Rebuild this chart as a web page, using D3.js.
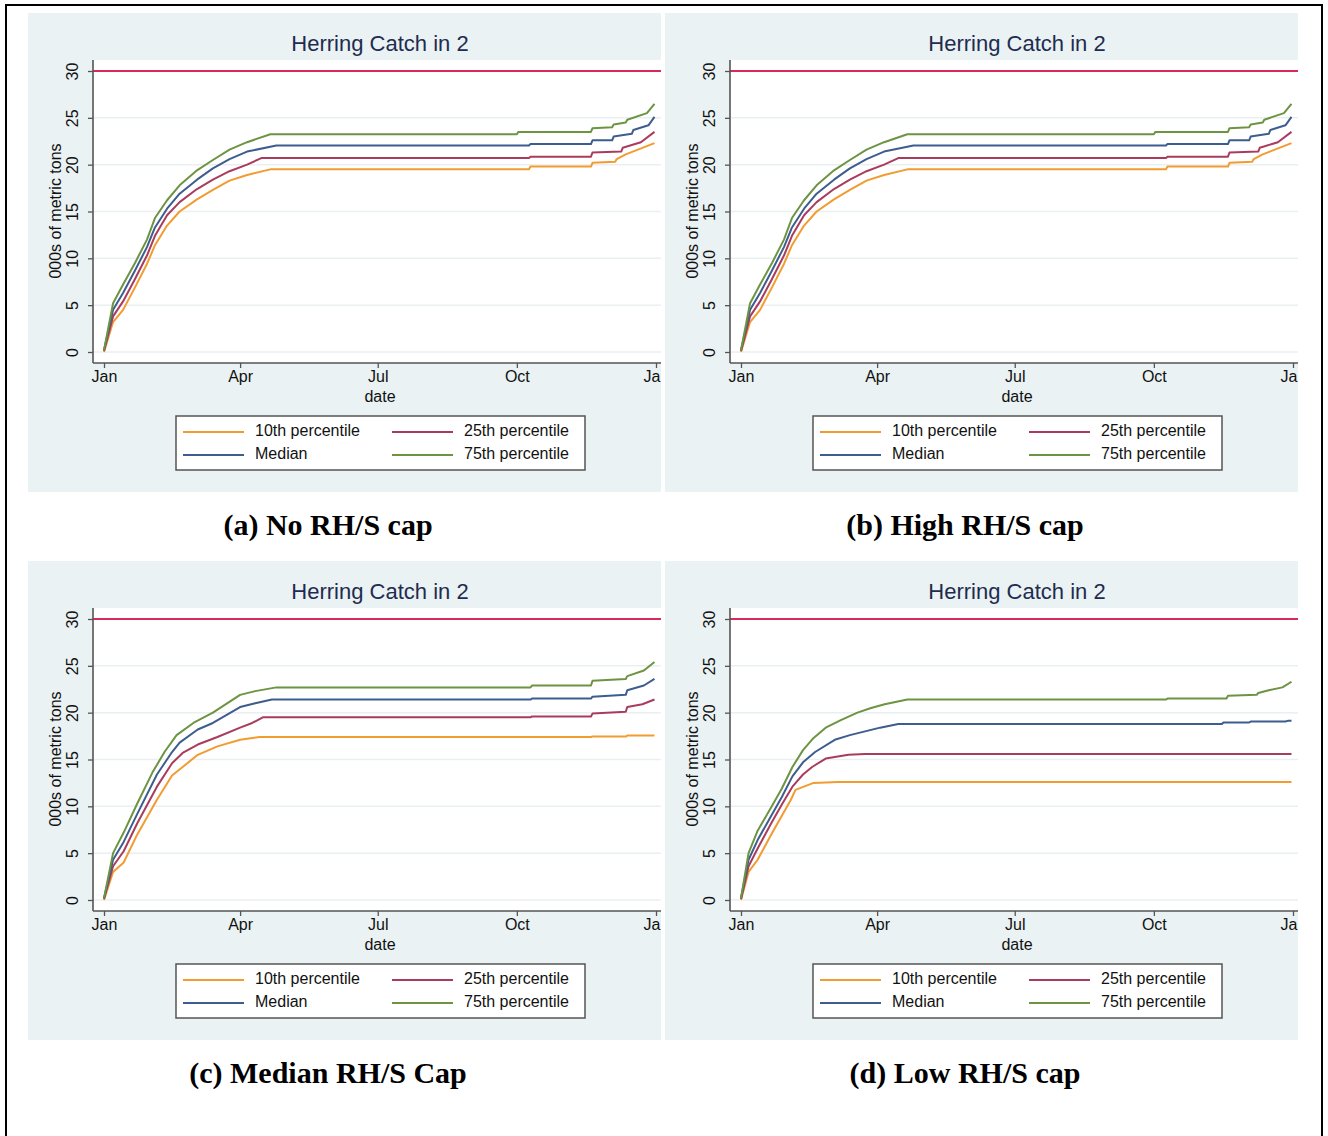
<!DOCTYPE html>
<html>
<head>
<meta charset="utf-8">
<script src="https://cdn.jsdelivr.net/npm/d3@7"></script>
<style>
  body { margin: 0; background: #fff; }
  svg { display: block; }
</style>
</head>
<body>
<div id="chart"></div>
<script>
// panel titles and captions
const panelTitles = ['Herring Catch in 2', 'Herring Catch in 2', 'Herring Catch in 2', 'Herring Catch in 2'];
const captions = ['(a) No RH/S cap', '(b) High RH/S cap', '(c) Median RH/S Cap', '(d) Low RH/S cap'];
const seriesNames = ['10th percentile', '25th percentile', 'Median', '75th percentile'];
const monthTicks = [0, 90, 181, 273, 365];
const monthLabels = ['Jan', 'Apr', 'Jul', 'Oct', 'Jan'];
const yTicks = [0, 5, 10, 15, 20, 25, 30];
const capLine = 30;

// [day of year, 000s of metric tons]
const noCapP10 = [[0,0],[6,3.2],[12.6,4.5],[20.5,6.9],[28.4,9.4],[33.7,11.4],[41.7,13.5],[50,15.0],[61.5,16.3],[72,17.3],[83,18.3],[94.6,18.9],[110,19.5],[281,19.5],[282,19.8],[322,19.8],[323,20.2],[338,20.3],[339,20.6],[345,21.1],[364,22.3]];
const noCapP25 = [[0,0.1],[6,3.8],[12.6,5.4],[20.5,7.8],[28.4,10.3],[33.7,12.4],[41.7,14.6],[50,16.0],[61.5,17.4],[72,18.4],[83,19.3],[94.6,20.0],[104,20.7],[281,20.7],[282,20.85],[322,20.85],[323,21.3],[342,21.4],[343,21.8],[355,22.4],[364,23.5]];
const noCapMed = [[0,0.2],[6,4.5],[12.6,6.3],[20.5,8.7],[28.4,11.2],[33.7,13.3],[41.7,15.3],[50,16.9],[61.5,18.4],[72,19.6],[83,20.6],[94.6,21.4],[114,22.05],[281,22.05],[282,22.2],[322,22.2],[323,22.6],[336,22.6],[337,23.0],[349,23.3],[350,23.7],[360,24.2],[364,25.1]];
const noCapP75 = [[0,0.2],[6,5.2],[12.6,7.2],[20.5,9.5],[28.4,12.0],[33.7,14.3],[41.7,16.2],[50,17.8],[61.5,19.4],[72,20.5],[83,21.6],[94.6,22.4],[110,23.25],[273,23.25],[274,23.5],[322,23.5],[323,23.9],[336,24.0],[337,24.3],[345,24.5],[346,24.8],[359,25.5],[364,26.5]];

const highCapP10 = [[0,0],[6,3.2],[12.6,4.5],[20.5,6.9],[28.4,9.4],[33.7,11.4],[41.7,13.5],[50,15.0],[61.5,16.3],[72,17.3],[83,18.3],[94.6,18.9],[110,19.5],[281,19.5],[282,19.8],[322,19.8],[323,20.2],[338,20.3],[339,20.6],[345,21.1],[364,22.3]];
const highCapP25 = [[0,0.1],[6,3.8],[12.6,5.4],[20.5,7.8],[28.4,10.3],[33.7,12.4],[41.7,14.6],[50,16.0],[61.5,17.4],[72,18.4],[83,19.3],[94.6,20.0],[104,20.7],[281,20.7],[282,20.85],[322,20.85],[323,21.3],[342,21.4],[343,21.8],[355,22.4],[364,23.5]];
const highCapMed = [[0,0.2],[6,4.5],[12.6,6.3],[20.5,8.7],[28.4,11.2],[33.7,13.3],[41.7,15.3],[50,16.9],[61.5,18.4],[72,19.6],[83,20.6],[94.6,21.4],[114,22.05],[281,22.05],[282,22.2],[322,22.2],[323,22.6],[336,22.6],[337,23.0],[349,23.3],[350,23.7],[360,24.2],[364,25.1]];
const highCapP75 = [[0,0.2],[6,5.2],[12.6,7.2],[20.5,9.5],[28.4,12.0],[33.7,14.3],[41.7,16.2],[50,17.8],[61.5,19.4],[72,20.5],[83,21.6],[94.6,22.4],[110,23.25],[273,23.25],[274,23.5],[322,23.5],[323,23.9],[336,24.0],[337,24.3],[345,24.5],[346,24.8],[359,25.5],[364,26.5]];

const medCapP10 = [[0,0],[6,3.0],[13,4.0],[22,7.0],[35,10.7],[45,13.3],[52,14.2],[62,15.5],[75,16.4],[90,17.1],[103,17.4],[322,17.4],[323,17.45],[345,17.45],[346,17.55],[364,17.55]];
const medCapP25 = [[0,0.1],[6,3.6],[13,5.2],[22,8.2],[35,12.1],[45,14.6],[52,15.7],[62,16.6],[75,17.4],[90,18.4],[98,18.9],[105,19.5],[282,19.5],[283,19.6],[322,19.6],[323,19.9],[345,20.1],[346,20.6],[356,20.9],[364,21.4]];
const medCapMed = [[0,0.2],[6,4.3],[13,6.2],[22,9.2],[35,13.4],[45,15.8],[50,16.8],[62,18.2],[72,18.9],[90,20.6],[100,21.0],[111,21.4],[282,21.4],[283,21.5],[322,21.5],[323,21.7],[345,21.9],[346,22.4],[357,22.9],[364,23.6]];
const medCapP75 = [[0,0.2],[6,5.0],[13,7.2],[22,10.3],[32,13.6],[40,15.8],[48,17.6],[60,19.0],[72,20.0],[90,21.9],[100,22.3],[114,22.7],[282,22.7],[283,22.9],[322,22.9],[323,23.4],[345,23.6],[346,23.9],[357,24.5],[364,25.4]];

const lowCapP10 = [[0,0],[5,3.0],[11,4.3],[20,7.0],[27,9.0],[33,10.7],[36,11.75],[48,12.5],[64,12.6],[364,12.6]];
const lowCapP25 = [[0,0.1],[5,3.6],[11,5.5],[20,8.2],[27,10.2],[34,12.1],[41,13.4],[47,14.2],[56,15.1],[71,15.5],[82,15.6],[364,15.6]];
const lowCapMed = [[0,0.2],[5,4.3],[11,6.4],[20,9.0],[27,11.0],[34,13.2],[41,14.7],[49,15.8],[62,17.1],[72,17.6],[82,18.0],[92,18.4],[104,18.8],[318,18.8],[319,18.95],[336,18.95],[337,19.05],[360,19.05],[362,19.15],[364,19.15]];
const lowCapP75 = [[0,0.2],[5,5.0],[11,7.4],[20,9.9],[27,11.9],[34,14.2],[41,16.0],[48,17.3],[56,18.4],[66,19.2],[77,20.0],[86,20.5],[95,20.9],[110,21.4],[281,21.4],[282,21.5],[321,21.5],[322,21.8],[341,21.9],[342,22.1],[349,22.4],[358,22.7],[364,23.3]];

const panelSeries = [
  [noCapP10, noCapP25, noCapMed, noCapP75],
  [highCapP10, highCapP25, highCapMed, highCapP75],
  [medCapP10, medCapP25, medCapMed, medCapP75],
  [lowCapP10, lowCapP25, lowCapMed, lowCapP75]
];

const colours = ['#f29b30', '#a93c5c', '#3d5d8e', '#6c9442'];
const capColour = '#d8295a';
const bgColour = '#eaf2f3';

const width = 1328, height = 1136;
const svg = d3.select('#chart').append('svg')
  .attr('width', width)
  .attr('height', height);

// outer frame (bottom edge falls off the page)
svg.append('rect')
  .attr('x', 6).attr('y', 5)
  .attr('width', 1316).attr('height', 1150)
  .attr('fill', 'none')
  .attr('stroke', '#000')
  .attr('stroke-width', 2);

const offsets = [[0, 0], [637, 0], [0, 548], [637, 548]];

// geometry of one panel (top-left panel coordinates)
const panel = { x0: 28, y0: 13, x1: 661, y1: 492 };
const plot = { left: 93, right: 661, top: 60, bottom: 363 };

const x = d3.scaleLinear().domain([0, 365]).range([104, 656]);
const y = d3.scaleLinear().domain([0, 30]).range([352, 71]);

const line = d3.line()
  .x(d => x(d[0]))
  .y(d => y(d[1]));

const font = '"Liberation Sans", Arial, sans-serif';

panelSeries.forEach(function (series, i) {
  const g = svg.append('g')
    .attr('transform', 'translate(' + offsets[i][0] + ',' + offsets[i][1] + ')');

  const clipId = 'clip' + i;
  g.append('clipPath').attr('id', clipId)
    .append('rect')
    .attr('x', panel.x0).attr('y', panel.y0)
    .attr('width', panel.x1 - panel.x0).attr('height', panel.y1 - panel.y0);

  const inner = g.append('g').attr('clip-path', 'url(#' + clipId + ')');

  inner.append('rect')
    .attr('x', panel.x0).attr('y', panel.y0)
    .attr('width', panel.x1 - panel.x0).attr('height', panel.y1 - panel.y0)
    .attr('fill', bgColour);

  inner.append('rect')
    .attr('x', plot.left).attr('y', plot.top)
    .attr('width', plot.right - plot.left).attr('height', plot.bottom - plot.top)
    .attr('fill', '#fff');

  // grid
  inner.append('g')
    .selectAll('line')
    .data(yTicks.filter(t => t < capLine))
    .join('line')
    .attr('x1', plot.left).attr('x2', plot.right)
    .attr('y1', d => y(d)).attr('y2', d => y(d))
    .attr('stroke', '#eaeff1')
    .attr('stroke-width', 1.5);

  // title
  inner.append('text')
    .attr('x', 380).attr('y', 45)
    .attr('text-anchor', 'middle')
    .attr('dominant-baseline', 'middle')
    .style('font-family', font)
    .style('font-size', '22px')
    .attr('fill', '#1e2c50')
    .text(panelTitles[i]);

  // cap line
  inner.append('line')
    .attr('x1', plot.left).attr('x2', plot.right)
    .attr('y1', y(capLine)).attr('y2', y(capLine))
    .attr('stroke', capColour)
    .attr('stroke-width', 2);

  // series
  inner.append('g')
    .selectAll('path')
    .data(series)
    .join('path')
    .attr('d', line)
    .attr('fill', 'none')
    .attr('stroke', (d, k) => colours[k])
    .attr('stroke-width', 2)
    .attr('stroke-linejoin', 'round');

  // y axis
  const yAxis = inner.append('g')
    .attr('transform', 'translate(' + plot.left + ',0)')
    .call(d3.axisLeft(y).tickValues(yTicks).tickSize(5).tickPadding(0).tickFormat(d3.format('d')));
  yAxis.select('.domain').remove();
  yAxis.selectAll('.tick line').attr('stroke', '#555').attr('stroke-width', 1.3);
  yAxis.selectAll('.tick text')
    .attr('x', -19).attr('dy', null)
    .attr('transform', 'rotate(-90,-19,0)')
    .attr('text-anchor', 'middle')
    .attr('dominant-baseline', 'middle')
    .style('font-family', font)
    .style('font-size', '16px')
    .attr('fill', '#111');
  inner.append('line')
    .attr('x1', plot.left).attr('x2', plot.left)
    .attr('y1', plot.top).attr('y2', plot.bottom)
    .attr('stroke', '#555').attr('stroke-width', 1.6);

  // x axis
  const xAxis = inner.append('g')
    .attr('transform', 'translate(0,' + plot.bottom + ')')
    .call(d3.axisBottom(x).tickValues(monthTicks).tickSize(5).tickPadding(3)
      .tickFormat((d, k) => monthLabels[k]));
  xAxis.select('.domain').remove();
  xAxis.selectAll('.tick line').attr('stroke', '#555').attr('stroke-width', 1.3);
  xAxis.selectAll('.tick text')
    .style('font-family', font)
    .style('font-size', '16px')
    .attr('fill', '#111');
  inner.append('line')
    .attr('x1', plot.left).attr('x2', plot.right)
    .attr('y1', plot.bottom).attr('y2', plot.bottom)
    .attr('stroke', '#555').attr('stroke-width', 1.6);

  // axis titles
  inner.append('text')
    .attr('x', 380).attr('y', 398)
    .attr('text-anchor', 'middle')
    .attr('dominant-baseline', 'middle')
    .style('font-family', font)
    .style('font-size', '16px')
    .attr('fill', '#111')
    .text('date');

  inner.append('text')
    .attr('transform', 'translate(57,211) rotate(-90)')
    .attr('text-anchor', 'middle')
    .attr('dominant-baseline', 'middle')
    .style('font-family', font)
    .style('font-size', '16px')
    .attr('fill', '#111')
    .text('000s of metric tons');

  // legend
  const legend = inner.append('g').attr('transform', 'translate(176,416)');
  legend.append('rect')
    .attr('width', 409).attr('height', 54)
    .attr('fill', '#fff')
    .attr('stroke', '#555')
    .attr('stroke-width', 1.5);
  const slots = [[0, 0], [1, 0], [0, 1], [1, 1]];
  const legendOrder = [0, 1, 2, 3]; // 10th, 25th, Median, 75th
  legendOrder.forEach(function (k, j) {
    const col = slots[j][0], row = slots[j][1];
    const lx = 7 + col * 209, ly = 16 + row * 23;
    legend.append('line')
      .attr('x1', lx).attr('x2', lx + 61)
      .attr('y1', ly).attr('y2', ly)
      .attr('stroke', colours[k])
      .attr('stroke-width', 2);
    legend.append('text')
      .attr('x', lx + 72).attr('y', ly)
      .attr('dominant-baseline', 'middle')
      .style('font-family', font)
      .style('font-size', '16px')
      .attr('fill', '#111')
      .text(seriesNames[k]);
  });

  // caption under panel
  g.append('text')
    .attr('x', 328).attr('y', 528)
    .attr('text-anchor', 'middle')
    .attr('dominant-baseline', 'middle')
    .style('font-family', '"Liberation Serif", "Times New Roman", serif')
    .style('font-weight', 'bold')
    .style('font-size', '30px')
    .attr('fill', '#000')
    .text(captions[i]);
});
</script>
</body>
</html>
